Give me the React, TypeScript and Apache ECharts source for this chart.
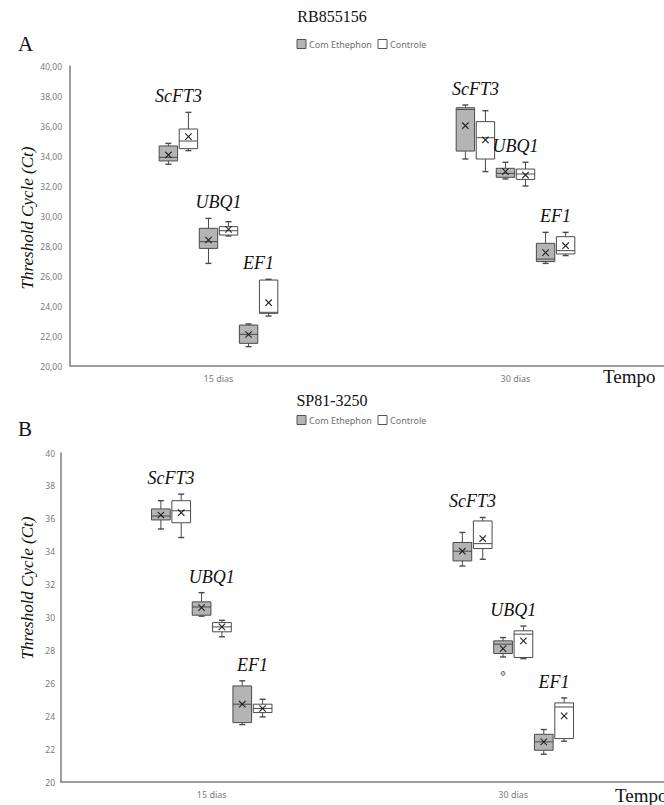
import React, { useEffect, useRef } from 'react';
import * as echarts from 'echarts';

const categories = ['15 dias', '30 dias'];
const genes = ['ScFT3', 'UBQ1', 'EF1'];
const treatments = ['Com Ethephon', 'Controle'];
const panelTitles = ['RB855156', 'SP81-3250'];
const panelLetters = ['A', 'B'];
const xAxisTitle = 'Tempo';
const yAxisTitle = 'Threshold Cycle (Ct)';

// rows: [min, Q1, median, Q3, max, mean]; order: 15 dias (ScFT3, UBQ1, EF1), 30 dias (ScFT3, UBQ1, EF1)
const rbComEthephon = [
  [33.45, 33.67, 33.91, 34.67, 34.84, 34.07],
  [26.84, 27.84, 28.29, 29.18, 29.84, 28.4],
  [21.29, 21.51, 22.11, 22.73, 22.8, 22.1],
  [33.8, 34.33, 37.1, 37.22, 37.4, 36.02],
  [32.47, 32.58, 32.84, 33.18, 33.58, 32.96],
  [26.84, 26.96, 27.13, 28.18, 28.91, 27.56],
];
const rbControle = [
  [34.36, 34.49, 35.0, 35.8, 36.91, 35.29],
  [28.67, 28.73, 29.02, 29.29, 29.62, 29.11],
  [23.33, 23.51, 23.58, 25.73, 25.78, 24.22],
  [32.96, 33.8, 35.22, 36.29, 37.02, 35.07],
  [32.0, 32.44, 32.8, 33.13, 33.58, 32.73],
  [27.36, 27.47, 27.69, 28.62, 28.91, 28.02],
];
const spComEthephon = [
  [35.38, 35.93, 36.17, 36.6, 37.1, 36.23],
  [30.08, 30.14, 30.64, 30.95, 31.51, 30.6],
  [23.49, 23.61, 24.73, 25.84, 26.15, 24.73],
  [33.13, 33.44, 34.03, 34.56, 35.17, 34.03],
  [27.6, 27.81, 28.38, 28.58, 28.78, 28.11],
  [21.69, 21.93, 22.44, 22.9, 23.19, 22.44],
];
const spControle = [
  [34.86, 35.76, 36.49, 37.1, 37.5, 36.37],
  [28.83, 29.13, 29.43, 29.69, 29.83, 29.43],
  [23.96, 24.22, 24.47, 24.73, 25.03, 24.47],
  [33.54, 34.19, 34.49, 35.87, 36.08, 34.8],
  [27.5, 27.57, 28.99, 29.19, 29.48, 28.58],
  [22.48, 22.64, 24.56, 24.81, 25.11, 24.02],
];
// outliers: [categoryIndex, geneIndex, treatmentIndex, value]
const rbOutliers: number[][] = [];
const spOutliers = [[1, 1, 0, 26.6]];

const yMin = 20;
const yMax = 40;
const yInterval = 2;

const panels = [
  { data: [rbComEthephon, rbControle], outliers: rbOutliers, decimals: 2 },
  { data: [spComEthephon, spControle], outliers: spOutliers, decimals: 0 },
];

const FILLS = ['#b4b4b4', '#ffffff'];
const STROKE = '#4a4a4a';
const AXIS_GRAY = '#7f7f7f';
const SERIF = '"Liberation Serif", "Times New Roman", serif';
const SANS = '"Noto Sans", "Liberation Sans", sans-serif';

function slotX(api: any, cat: number, slot: number) {
  const base = api.coord([cat, yMin]);
  const bandW = api.size([1, 0])[0];
  const pitch = bandW * 0.0675;
  return { cx: base[0] + (slot - 2.5) * pitch, bw: bandW * 0.062 };
}

function boxRenderer(t: number) {
  return (params: any, api: any) => {
    const cat = api.value(0);
    const gene = api.value(1);
    const [mn, q1, md, q3, mx, mean] = [2, 3, 4, 5, 6, 7].map((i) => api.value(i));
    const { cx, bw } = slotX(api, cat, gene * 2 + t);
    const y = (v: number) => api.coord([cat, v])[1];
    const lineStyle = { stroke: STROKE, lineWidth: 1 };
    const cap = 3;
    const m = 3.2;
    const ym = y(mean);
    return {
      type: 'group',
      children: [
        { type: 'line', shape: { x1: cx, y1: y(mx), x2: cx, y2: y(q3) }, style: lineStyle },
        { type: 'line', shape: { x1: cx - cap, y1: y(mx), x2: cx + cap, y2: y(mx) }, style: { ...lineStyle, lineWidth: 1.4 } },
        { type: 'line', shape: { x1: cx, y1: y(q1), x2: cx, y2: y(mn) }, style: lineStyle },
        { type: 'line', shape: { x1: cx - cap, y1: y(mn), x2: cx + cap, y2: y(mn) }, style: { ...lineStyle, lineWidth: 1.4 } },
        {
          type: 'rect',
          shape: { x: cx - bw / 2, y: y(q3), width: bw, height: y(q1) - y(q3) },
          style: { fill: FILLS[t], stroke: STROKE, lineWidth: 1 },
        },
        { type: 'line', shape: { x1: cx - bw / 2, y1: y(md), x2: cx + bw / 2, y2: y(md) }, style: lineStyle },
        { type: 'line', shape: { x1: cx - m, y1: ym - m, x2: cx + m, y2: ym + m }, style: { stroke: '#222', lineWidth: 1.1 } },
        { type: 'line', shape: { x1: cx - m, y1: ym + m, x2: cx + m, y2: ym - m }, style: { stroke: '#222', lineWidth: 1.1 } },
      ],
    };
  };
}

function labelRenderer(params: any, api: any) {
  const cat = api.value(0);
  const gene = api.value(1);
  const top = api.value(2);
  const { cx } = slotX(api, cat, gene * 2 + 0.5);
  const yy = api.coord([cat, top])[1];
  return {
    type: 'text',
    x: cx,
    y: yy - 7,
    style: {
      text: genes[gene],
      align: 'center',
      verticalAlign: 'bottom',
      font: `italic 18px ${SERIF}`,
      fill: '#111',
    },
  };
}

function outlierRenderer(params: any, api: any) {
  const cat = api.value(0);
  const gene = api.value(1);
  const t = api.value(2);
  const v = api.value(3);
  const { cx } = slotX(api, cat, gene * 2 + t);
  const yy = api.coord([cat, v])[1];
  return {
    type: 'circle',
    shape: { cx, cy: yy, r: 2 },
    style: { fill: '#d0d0d0', stroke: '#6a6a6a', lineWidth: 1 },
  };
}

export default function App() {
  const ref = useRef<HTMLDivElement>(null);
  useEffect(() => {
    if (!ref.current) return;
    const chart = echarts.init(ref.current, null, { renderer: 'svg' });

    const grids = [
      { left: 70, top: 66, width: 597, height: 300 },
      { left: 61, top: 453, width: 613, height: 329 },
    ];
    const labelMargins = [8, 6];

    const series: any[] = [];
    panels.forEach((p, pi) => {
      p.data.forEach((rows, t) => {
        series.push({
          type: 'custom',
          name: treatments[t],
          xAxisIndex: pi,
          yAxisIndex: pi,
          renderItem: boxRenderer(t),
          encode: { x: 0, y: [2, 3, 4, 5, 6, 7] },
          data: rows.map((r, i) => [Math.floor(i / genes.length), i % genes.length, ...r]),
          silent: true,
        });
      });
      const labelData = p.data[0].map((r, i) => [
        Math.floor(i / genes.length),
        i % genes.length,
        Math.max(r[4], p.data[1][i][4]),
      ]);
      series.push({
        type: 'custom',
        name: 'labels' + pi,
        xAxisIndex: pi,
        yAxisIndex: pi,
        renderItem: labelRenderer,
        encode: { x: 0, y: 2 },
        data: labelData,
        silent: true,
      });
      if (p.outliers.length) {
        series.push({
          type: 'custom',
          name: 'outliers' + pi,
          xAxisIndex: pi,
          yAxisIndex: pi,
          renderItem: outlierRenderer,
          encode: { x: 0, y: 3 },
          data: p.outliers,
          silent: true,
        });
      }
    });

    const graphic: any[] = [];
    const titleY = [17, 401];
    const legendY = [44, 420];
    const letterY = [44, 429];
    const yNameY = [218, 588];
    const tempoPos = [
      [603, 376],
      [615, 795],
    ];
    panels.forEach((p, pi) => {
      graphic.push({
        type: 'text',
        left: 'center',
        x: 0,
        top: titleY[pi] - 9,
        style: { text: panelTitles[pi], font: `16px ${SERIF}`, fill: '#111' },
      });
      graphic.push({
        type: 'text',
        x: 18,
        y: letterY[pi],
        style: { text: panelLetters[pi], font: `21px ${SERIF}`, fill: '#111', verticalAlign: 'middle' },
      });
      const lx = [297, 378];
      treatments.forEach((name, t) => {
        graphic.push({
          type: 'rect',
          shape: { x: lx[t], y: legendY[pi] - 4.5, width: 9, height: 9 },
          style: { fill: FILLS[t], stroke: '#555', lineWidth: 1 },
        });
        graphic.push({
          type: 'text',
          x: lx[t] + 12,
          y: legendY[pi],
          style: { text: name, font: `9px ${SANS}`, fill: '#6f6f6f', verticalAlign: 'middle' },
        });
      });
      graphic.push({
        type: 'text',
        x: 27,
        y: yNameY[pi],
        rotation: Math.PI / 2,
        style: {
          text: yAxisTitle,
          font: `italic 17px ${SERIF}`,
          fill: '#111',
          align: 'center',
          verticalAlign: 'middle',
        },
      });
      graphic.push({
        type: 'text',
        x: tempoPos[pi][0],
        y: tempoPos[pi][1],
        style: { text: xAxisTitle, font: `19px ${SERIF}`, fill: '#111', verticalAlign: 'middle' },
      });
    });

    chart.setOption({
      animation: false,
      backgroundColor: '#ffffff',
      grid: grids,
      xAxis: grids.map((g, i) => ({
        type: 'category',
        gridIndex: i,
        data: categories,
        axisLine: { lineStyle: { color: AXIS_GRAY, width: 1.5 } },
        axisTick: { show: false },
        axisLabel: { color: '#7a7a7a', fontSize: 9, fontFamily: SANS, margin: 8 },
        splitLine: { show: false },
      })),
      yAxis: grids.map((g, i) => ({
        type: 'value',
        gridIndex: i,
        min: yMin,
        max: yMax,
        interval: yInterval,
        axisLine: { show: true, lineStyle: { color: AXIS_GRAY, width: 1.5 } },
        axisTick: { show: false },
        splitLine: { show: false },
        axisLabel: {
          color: '#7a7a7a',
          fontSize: 8.5,
          fontFamily: SANS,
          margin: labelMargins[i],
          formatter: (v: number) => v.toFixed(panels[i].decimals).replace('.', ','),
        },
      })),
      series,
      graphic,
    });
    return () => chart.dispose();
  }, []);
  return (
    <div
      ref={ref}
      style={{ position: 'absolute', left: 0, top: 0, width: 664, height: 805, background: '#fff' }}
    />
  );
}
